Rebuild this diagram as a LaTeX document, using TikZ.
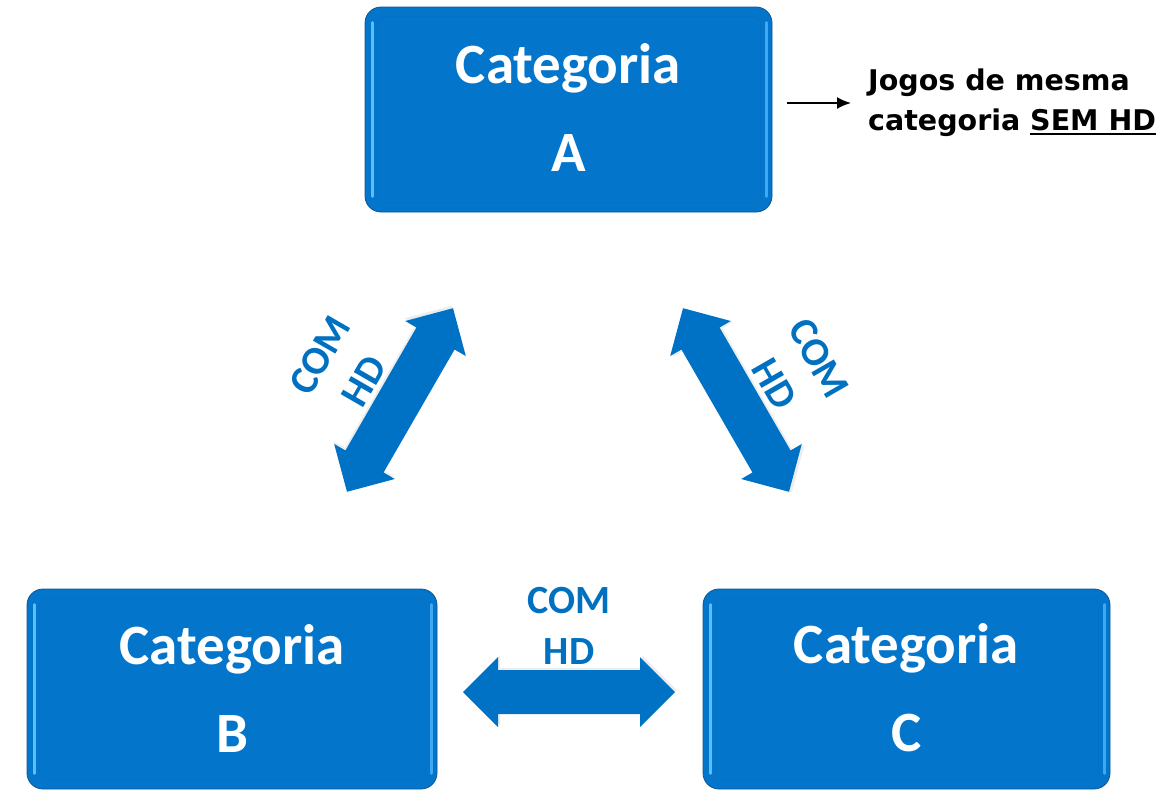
\documentclass[tikz,border=0pt]{standalone}
\usepackage{fontspec}
\setmainfont{Carlito}
\newfontfamily\notefont{DejaVu Sans}
\usetikzlibrary{arrows.meta}
\definecolor{boxblue}{RGB}{3,118,204}
\definecolor{boxedge}{RGB}{10,85,150}
\definecolor{hlblue}{RGB}{90,190,255}
\definecolor{arrowblue}{RGB}{0,114,198}
\definecolor{labelblue}{RGB}{0,112,192}
\newcommand\thickul[1]{\setbox0\hbox{#1}\rlap{\rule[-4.5pt]{\wd0}{2.4pt}}\box0}
\tikzset{
  catbox/.style={rounded corners=16pt, fill=boxblue, draw=boxedge, line width=0.8pt, inner sep=0pt},
  cattext/.style={text=white, font=\bfseries\fontsize{57}{88}\selectfont, align=center},
  hl/.style={hlblue, line width=3pt, line cap=round},
  arrowlabel/.style={text=labelblue, font=\bfseries\fontsize{40}{51}\selectfont, align=center, inner sep=0pt},
  notetext/.style={font=\notefont\bfseries\fontsize{28.5}{40}\selectfont, align=left, anchor=west, inner sep=0pt},
  dblarrow/.pic={
    \fill[black, opacity=0.07] (-104,-2) -- (-69,33) -- (-69,20) -- (73,20) -- (73,33) -- (108,-2)
      -- (73,-37) -- (73,-24) -- (-69,-24) -- (-69,-37) -- cycle;
    \fill[arrowblue] (-106,0) -- (-71,35) -- (-71,22) -- (71,22) -- (71,35) -- (106,0)
      -- (71,-35) -- (71,-22) -- (-71,-22) -- (-71,-35) -- cycle;
  }
}
\newcommand\boxbevel[1]{%
  \draw[hl] ([xshift=8pt,yshift=-16pt]#1.north west) -- ([xshift=8pt,yshift=16pt]#1.south west);
  \draw[hl, hlblue!70!boxblue] ([xshift=-6pt,yshift=-16pt]#1.north east) -- ([xshift=-6pt,yshift=16pt]#1.south east);
  \draw[boxedge!40!boxblue, line width=0.8pt, rounded corners=6pt, opacity=0.35]
    ([xshift=13pt,yshift=-10pt]#1.north west) rectangle ([xshift=-12pt,yshift=10pt]#1.south east);
}
\begin{document}
\begin{tikzpicture}[x=1pt,y=-1pt]
\useasboundingbox (0,0) rectangle (1165,790);
% boxes
\node[catbox, minimum width=407pt, minimum height=205pt] (A) at (568.5,109.5) {};
\boxbevel{A}
\node[cattext] (Atext) at ([yshift=2pt]A.center) {Categoria\\A};
\node[catbox, minimum width=410pt, minimum height=200pt] (B) at (232,689) {};
\boxbevel{B}
\node[cattext] (Btext) at ([yshift=1pt]B.center) {Categoria\\B};
\node[catbox, minimum width=407pt, minimum height=200pt] (C) at (906.5,689) {};
\boxbevel{C}
\node[cattext] (Ctext) at ([yshift=1pt]C.center) {Categoria\\C};
% block arrows
\pic[rotate=60] (arrL) at (400,400) {dblarrow};
\pic[rotate=-60] (arrR) at (736,400) {dblarrow};
\pic (arrH) at (569,692) {dblarrow};
% labels
\node[arrowlabel, rotate=60] (lblL) at (342,368) {COM\\HD};
\node[arrowlabel, rotate=-60] (lblR) at (797,371) {COM\\HD};
\node[arrowlabel] (lblH) at (569,626) {COM\\HD};
% note
\node[notetext] (note) at (868,103) {Jogos de mesma\\categoria \thickul{SEM HD}};
\coordinate (noteStart) at (787,103);
\draw[line width=2pt, -{Latex[length=14pt,width=12pt]}] (noteStart) -- ([xshift=-17pt]note.west);
\end{tikzpicture}
\end{document}
